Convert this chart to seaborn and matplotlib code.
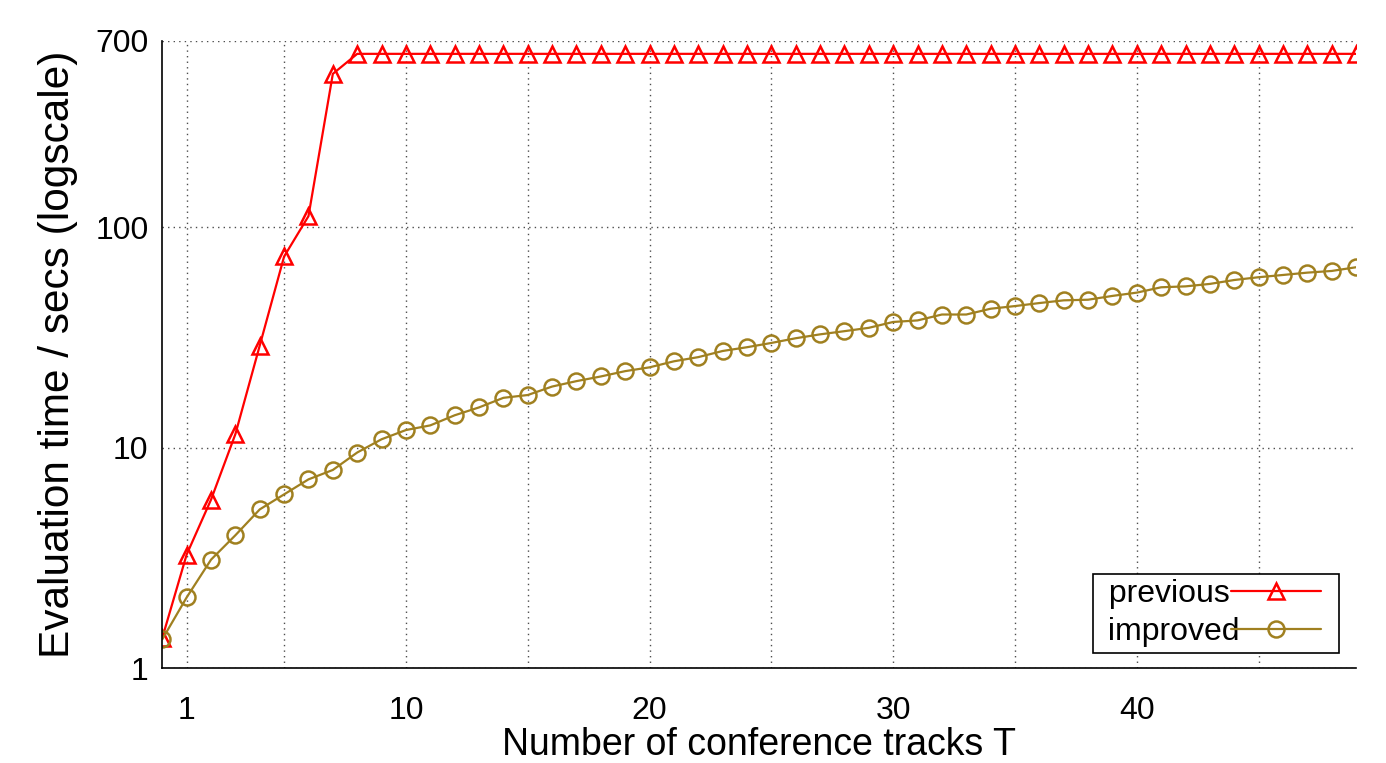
import matplotlib
matplotlib.use("Agg")
import matplotlib.pyplot as plt
from matplotlib.ticker import FixedLocator, NullLocator, FixedFormatter
from matplotlib.legend_handler import HandlerLine2D
import pandas as pd
import seaborn as sns

# x positions of the measurements (number of tracks)
tracks = list(range(0, 50))

# evaluation time in seconds, previous approach (flat part = timeout)
previous = [1.37, 3.27, 5.8, 11.5, 29.0, 73.5, 112.0, 495.0] + [610.0] * 42

# evaluation time in seconds, improved approach
improved = [1.35, 2.09, 3.10, 4.0, 5.24, 6.13, 7.17, 7.91, 9.49, 10.9,
            12.0, 12.6, 14.0, 15.2, 16.8, 17.3, 18.9, 20.0, 21.0, 22.2,
            23.1, 24.6, 25.7, 27.4, 28.5, 29.8, 31.3, 32.6, 33.7, 34.9,
            37.1, 37.7, 40.1, 40.1, 42.6, 43.8, 45.2, 46.5, 46.8, 48.7,
            50.4, 53.3, 53.8, 55.2, 57.5, 59.2, 60.6, 62.1, 63.2, 65.7]

xtick_major = [1, 10, 20, 30, 40]
xtick_minor = [5, 15, 25, 35, 45]
ytick_vals = [1, 10, 100, 700]
ytick_labels = ['1', '10', '100', '700']


class ShortLineHandler(HandlerLine2D):
    # gnuplot style key sample: leaves some room right of the line
    def create_artists(self, legend, orig_handle, xdescent, ydescent,
                       width, height, fontsize, trans):
        return super().create_artists(legend, orig_handle, xdescent, ydescent,
                                      width - 0.4 * fontsize, height,
                                      fontsize, trans)


df = pd.DataFrame({'T': tracks, 'previous': previous, 'improved': improved})

sns.set_theme(style='white')
plt.rcParams['font.family'] = ['Liberation Sans', 'DejaVu Sans']
plt.rcParams['text.color'] = 'black'
plt.rcParams['axes.labelcolor'] = 'black'
plt.rcParams['xtick.color'] = 'black'
plt.rcParams['ytick.color'] = 'black'

fig = plt.figure(figsize=(13.86, 7.63), dpi=100)
ax = fig.add_axes([0.1171, 0.1245, 0.8613, 0.8222])

red = '#ff0000'
olive = '#a08020'

sns.lineplot(data=df, x='T', y='previous', ax=ax, color=red, linewidth=1.6,
             marker='^', markersize=11.5, markerfacecolor='none',
             markeredgecolor=red, markeredgewidth=1.8, label=' previous ')
sns.lineplot(data=df, x='T', y='improved', ax=ax, color=olive, linewidth=1.6,
             marker='o', markersize=11.5, markerfacecolor='none',
             markeredgecolor=olive, markeredgewidth=1.8, label=' improved')

ax.set_yscale('log')
ax.set_xlim(0, 49)
ax.set_ylim(1, 700)

ax.xaxis.set_major_locator(FixedLocator(xtick_major))
ax.xaxis.set_minor_locator(FixedLocator(xtick_minor))
ax.yaxis.set_major_locator(FixedLocator(ytick_vals))
ax.yaxis.set_major_formatter(FixedFormatter(ytick_labels))
ax.yaxis.set_minor_locator(NullLocator())

ax.tick_params(which='both', direction='in', length=11, width=1,
               color='black', labelsize=23)
ax.tick_params(axis='x', which='both', pad=20)
ax.tick_params(axis='y', which='both', pad=10)

ax.grid(True, axis='x', which='both', color='0.3', linestyle=(0, (1, 3)), linewidth=1)
ax.grid(True, axis='y', which='major', color='0.3', linestyle=(0, (1, 3)), linewidth=1)

for side in ['top', 'right']:
    ax.spines[side].set_visible(False)
for side in ['left', 'bottom']:
    ax.spines[side].set_color('black')
    ax.spines[side].set_linewidth(1.2)

ax.set_xlabel('Number of conference tracks T', fontsize=27, labelpad=0.8)
ax.set_ylabel('Evaluation time / secs (logscale)', fontsize=30.5, labelpad=12)

handles, labels = ax.get_legend_handles_labels()
leg = ax.legend(handles, labels, loc='lower right',
                bbox_to_anchor=(0.9858, 0.0239),
                borderaxespad=0, markerfirst=False, fontsize=23,
                handlelength=3.2, handletextpad=-0.25, labelspacing=0.25,
                borderpad=0.18, fancybox=False, framealpha=1,
                edgecolor='black',
                handler_map={h: ShortLineHandler() for h in handles})
leg.get_frame().set_linewidth(1.2)

fig.savefig('out.png', dpi=100)
